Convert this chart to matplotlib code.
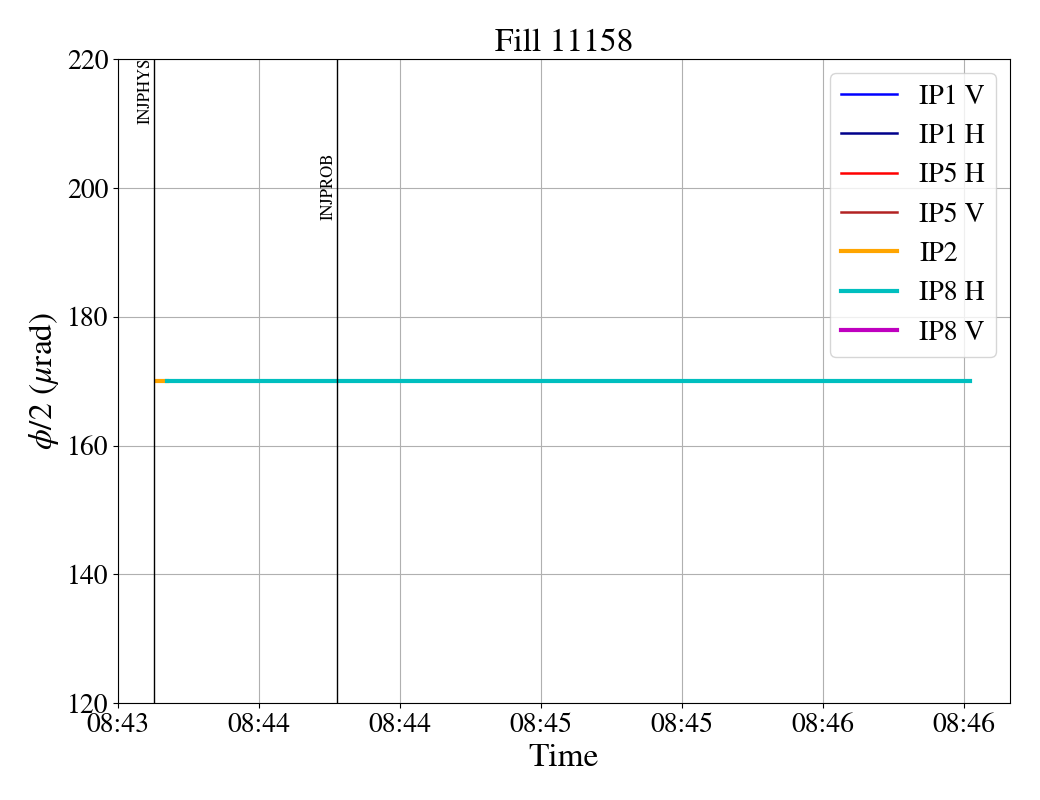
import datetime as dt
import matplotlib
matplotlib.use("Agg")
import matplotlib.pyplot as plt
import matplotlib.dates as mdates

plt.rcParams['font.family'] = ['STIXGeneral', 'Liberation Serif', 'DejaVu Serif']
plt.rcParams['mathtext.fontset'] = 'stix'

day = dt.datetime(2025, 1, 1)
def t(h, m, s):
    return day + dt.timedelta(hours=h, minutes=m, seconds=s)

# crossing angle data
ip2_time = [t(8, 43, 38.2), t(8, 43, 40.5)]
ip2_val = [170, 170]
ip8h_time = [t(8, 43, 40.5), t(8, 46, 31.3)]
ip8h_val = [170, 170]

# beam mode markers
mode_names = ["INJPHYS", "INJPROB"]
mode_times = [t(8, 43, 37.7), t(8, 44, 16.6)]
mode_text_y = [210, 195]

fig, ax = plt.subplots(figsize=(10.4, 8), dpi=100)
fig.subplots_adjust(left=0.1135, right=0.971, top=0.926, bottom=0.121)

# empty series just for the legend
ax.plot([], [], color='blue', lw=1.8, label='IP1 V')
ax.plot([], [], color='darkblue', lw=1.8, label='IP1 H')
ax.plot([], [], color='red', lw=1.8, label='IP5 H')
ax.plot([], [], color='firebrick', lw=1.8, label='IP5 V')
ax.plot(ip2_time, ip2_val, color='orange', lw=3, label='IP2')
ax.plot(ip8h_time, ip8h_val, color='c', lw=3, label='IP8 H')
ax.plot([], [], color='m', lw=3, label='IP8 V')

for name, tm, yy in zip(mode_names, mode_times, mode_text_y):
    ax.axvline(tm, color='black', lw=1)
    ax.text(tm, yy, name, rotation=90, ha='right', va='bottom', fontsize=12)

ax.set_ylim(120, 220)
ax.set_xlim(t(8, 43, 30), t(8, 46, 39.8))
ax.xaxis.set_major_locator(mdates.SecondLocator(bysecond=[0, 30]))
ax.xaxis.set_major_formatter(mdates.DateFormatter('%H:%M'))
ax.grid(True)
ax.tick_params(labelsize=20)

ax.set_title('Fill 11158', fontsize=24)
ax.set_xlabel('Time', fontsize=24)
ax.set_ylabel(r'$\phi/2$ ($\mu$rad)', fontsize=24)
ax.legend(loc='upper right', fontsize=20)

fig.savefig('out.png')
